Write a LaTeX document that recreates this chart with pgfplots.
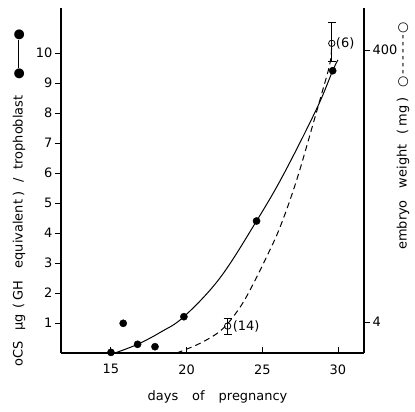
\documentclass[border=0pt]{standalone}
\usepackage{fontspec}
\setmainfont{DejaVu Sans}
\usepackage{pgfplots}
\pgfplotsset{compat=1.18}

\begin{document}
\begin{tikzpicture}[font=\fontsize{13}{15}\selectfont]
\pgfplotsset{
  every axis/.append style={
    scale only axis, width=303bp, height=345bp,
    xmin=11.70, xmax=31.72,
    /pgf/number format/assume math mode=true,
    axis line style={line width=1.2pt},
    tick style={black, line width=0.9pt},
    tick align=outside, major tick length=6bp,
  },
}
% left axis: oCS per trophoblast
\begin{axis}[name=ax, ymin=0, ymax=11.5,
  axis x line*=bottom, axis y line*=left,
  xtick={15,20,25,30}, xtick style={yshift=6bp},
  xticklabel style={yshift=-2bp},
  ytick={1,2,3,4,5,6,7,8,9,10},
  yticklabel style={xshift=1bp},
  clip=false]
\addplot[black, line width=1pt, smooth, tension=0.6] coordinates {
  (15.26,0) (16.76,0.29) (18.3,0.70) (19.82,1.21)
  (22.2,2.5) (24.62,4.4) (26.4,5.95) (28.6,8.15) (29.65,9.41) (30.0,9.77)};
\addplot[only marks, mark=*, mark size=3.6bp, black] coordinates {
  (15.0,0.02) (15.81,0.99) (16.76,0.29) (17.91,0.21) (19.82,1.21)
  (24.62,4.4) (29.65,9.41)};
\end{axis}
% right axis: embryo weight (log)
\begin{axis}[ymode=log, ymin=2.37, ymax=815,
  axis x line=none, axis y line*=right,
  ytick={4,400}, yticklabels={4,400}, yminorticks=false,
  yticklabel style={xshift=-1bp},
  clip=false]
\addplot[black, line width=1pt, dash pattern=on 6bp off 4bp, smooth, tension=0.6] coordinates {
  (19.34,2.37) (20.88,2.79) (22.3,3.5) (23.4,4.9) (24.19,6.88)
  (25.29,12.1) (26.2,20.3) (27.27,44.3) (28.37,116) (28.93,192)
  (29.47,319) (29.59,448)};
\addplot[only marks, mark=o, mark size=3.2bp, black, thick, mark options={fill=white},
  error bars/.cd, y dir=both, y explicit,
  error mark options={rotate=90, mark size=4bp, line width=0.9pt},
  error bar style={line width=0.9pt}] coordinates {
  (22.71,3.74) += (0,0.52) -= (0,0.47)
  (29.59,448) += (0,185) -= (0,120)};
\node[anchor=west, inner sep=0pt] at (axis cs:29.59,448) {\hspace{4bp}(6)};
\node[anchor=west, inner sep=0pt] at (axis cs:22.71,3.74) {\hspace{5bp}(14)};
\end{axis}
% axis labels
\node[inner sep=0pt, rotate=90, anchor=west] at ([xshift=-42bp,yshift=-14bp]ax.south west)
  {oCS\hspace{11bp}µg\hspace{6bp}(\hspace{3bp}GH\hspace{12bp}equivalent\hspace{3bp})\hspace{9bp}/\hspace{9bp}trophoblast\hspace{16bp}●\rule[0.3em]{28bp}{1.1pt}●};
\node[inner sep=0pt, rotate=90, anchor=west] at ([xshift=39bp,yshift=103bp]ax.south east)
  {embryo\hspace{12bp}weight\hspace{10bp}(\hspace{3bp}mg\hspace{3bp})\hspace{10bp}○\,-\,-\,-\,-\,-\,-\,○};
\node[inner sep=0pt] at ([xshift=5bp,yshift=-44bp]ax.south)
  {days\hspace{14bp}of\hspace{14bp}pregnancy};
\pgfresetboundingbox
\path[use as bounding box] ([xshift=-61bp,yshift=-59bp]ax.south west) rectangle ([xshift=51bp,yshift=8bp]ax.north east);
\end{tikzpicture}
\end{document}
